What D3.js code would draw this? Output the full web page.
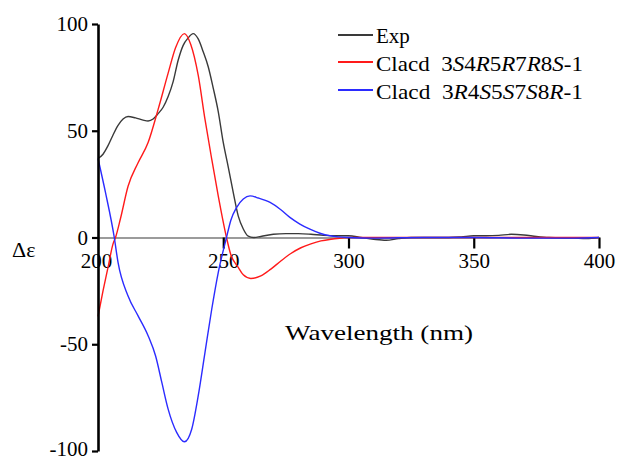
<!DOCTYPE html>
<html>
<head>
<meta charset="utf-8">
<script src="https://cdn.jsdelivr.net/npm/d3@7"></script>
<style>
  body { margin: 0; background: #fff; }
  svg { display: block; }
  svg text { font-family: 'Liberation Serif', 'Times New Roman', serif !important; }
</style>
</head>
<body>
<div class="chart"></div>
<script>
// wavelength (nm) / delta epsilon
const expWave = [200, 202, 204, 206, 208, 210, 212, 215, 218, 220, 222, 224, 226, 228, 230, 232, 234, 236, 238, 240, 242, 244, 246, 248, 250, 252, 254, 256, 258, 260, 262, 265, 270, 275, 280, 285, 290, 295, 300, 305, 310, 315, 320, 325, 330, 340, 345, 350, 355, 360, 365, 370, 375, 380, 390, 395, 400];
const expVals = [37, 39, 43, 48, 52.5, 55.5, 56.7, 56, 55, 54.6, 55.5, 58, 61, 66, 73, 83, 90, 93.5, 95.5, 93, 87, 80, 70, 59, 44.5, 33, 21, 10, 4, 0.6, 0, 0.5, 1.5, 1.8, 1.8, 1.5, 1, 0.8, 0.8, 0, -0.8, -1.3, -0.5, 0, 0, 0, 0.3, 0.8, 0.8, 1, 1.5, 1.2, 0.5, 0, -0.3, -0.5, 0];

const redWave = [200, 202, 204, 206, 207, 209, 212, 216, 220, 224, 228, 231, 234.5, 237, 240, 242.7, 245.4, 248, 251.3, 253, 256, 258, 261, 265, 269, 273, 277, 281, 285, 289, 293, 297, 300, 350, 400];
const redVals = [-37, -25, -14, -3, 0, 9, 24, 35, 44.5, 60, 77, 89, 95.5, 90.5, 76, 55.4, 36.7, 19.5, 0, -8, -14, -17.5, -19.2, -18, -14.8, -11, -7.5, -4.8, -3, -1.6, -0.8, -0.3, 0, 0, 0];

const blueWave = [200, 203, 206.5, 208, 212, 216, 220, 223, 225.5, 228, 231.4, 234.5, 237.4, 240, 242.7, 245.4, 248, 251.3, 253, 255.3, 258, 260.7, 264, 268.7, 273, 276.6, 280.6, 284.6, 288.6, 292.6, 296, 300, 310, 330, 350, 370, 390, 400];
const blueVals = [37, 21, 0, -11.7, -27.4, -36.7, -46, -55.5, -68, -80.4, -91.3, -95.7, -89.8, -74.2, -53.9, -33.6, -16.4, 0, 8, 14, 18, 19.5, 18.5, 16.4, 13, 9.4, 6.3, 3.9, 2, 0.8, 0.3, 0, -0.3, 0, 0, -0.3, -0.3, 0];

const xTicks = [200, 250, 300, 350, 400];
const yTicks = [100, 50, 0, -50, -100];

const seriesColors = ["#3a3a3a", "#ff1a1a", "#2b2bff"];

const width = 621, height = 461;

const svg = d3.select(".chart").append("svg")
  .attr("width", width)
  .attr("height", height);

const x = d3.scaleLinear().domain([200, 400]).range([98, 599]);
const y = d3.scaleLinear().domain([-100, 100]).range([451, 24]);

// x axis sits on the zero line
const xAxis = svg.append("g")
  .attr("transform", `translate(0,${y(0)})`)
  .call(d3.axisBottom(x).tickValues(xTicks).tickFormat(d => String(d))
    .tickSizeInner(11).tickSizeOuter(0).tickPadding(5));
xAxis.select(".domain").attr("stroke", "#7a7a7a").attr("stroke-width", 1.6);
xAxis.selectAll(".tick line").attr("stroke", "#000").attr("stroke-width", 2.2)
  .filter(d => d === 200).remove();
xAxis.selectAll(".tick text")
  .attr("font-size", 21)
  .attr("fill", "#000")
  .attr("dx", d => (d === 200 ? -2 : 0));

// curves
const series = [
  { wave: expWave, vals: expVals },
  { wave: redWave, vals: redVals },
  { wave: blueWave, vals: blueVals }
];

const line = d3.line()
  .x(d => x(d[0]))
  .y(d => y(d[1]))
  .curve(d3.curveMonotoneX);

series.forEach((s, i) => {
  svg.append("path")
    .datum(d3.zip(s.wave, s.vals))
    .attr("fill", "none")
    .attr("stroke", seriesColors[i])
    .attr("stroke-width", 1.4)
    .attr("d", line);
});

// y axis, hyphen minus like the original
const yAxis = svg.append("g")
  .attr("transform", `translate(${x(200)},0)`)
  .call(d3.axisLeft(y).tickValues(yTicks).tickFormat(d => String(d))
    .tickSizeInner(6).tickSizeOuter(0).tickPadding(4));
yAxis.select(".domain").attr("stroke", "#000").attr("stroke-width", 2.6);
yAxis.selectAll(".tick line").attr("stroke", "#000").attr("stroke-width", 2.2);
yAxis.selectAll(".tick text")
  .attr("font-size", 21)
  .attr("fill", "#000")
  .attr("dy", d => (d === -100 ? "0.22em" : "0.32em"));

// axis titles
svg.append("text")
  .attr("x", 12)
  .attr("y", 257)
  .attr("font-size", 22)
  .text("Δε");

svg.append("text")
  .attr("x", 285)
  .attr("y", 340)
  .attr("font-size", 22)
  .attr("textLength", 188)
  .attr("lengthAdjust", "spacingAndGlyphs")
  .text("Wavelength (nm)");

// legend
const legendRows = [
  { y: 35, base: 43, parts: [["Exp", false]] },
  { y: 62, base: 71, parts: [["Clacd  3", false], ["S", true], ["4", false], ["R", true], ["5", false], ["R", true], ["7", false], ["R", true], ["8", false], ["S", true], ["-1", false]] },
  { y: 90, base: 99, parts: [["Clacd  3", false], ["R", true], ["4", false], ["S", true], ["5", false], ["S", true], ["7", false], ["S", true], ["8", false], ["R", true], ["-1", false]] }
];

legendRows.forEach((row, i) => {
  svg.append("line")
    .attr("x1", 338).attr("x2", 373)
    .attr("y1", row.y).attr("y2", row.y)
    .attr("stroke", seriesColors[i])
    .attr("stroke-width", 2);
  const t = svg.append("text")
    .attr("x", 376)
    .attr("y", row.base)
    .attr("font-size", 21)
    .style("white-space", "pre");
  if (i > 0) t.attr("textLength", 207).attr("lengthAdjust", "spacingAndGlyphs");
  row.parts.forEach(p => {
    t.append("tspan")
      .attr("font-style", p[1] ? "italic" : "normal")
      .text(p[0]);
  });
});
</script>
</body>
</html>
